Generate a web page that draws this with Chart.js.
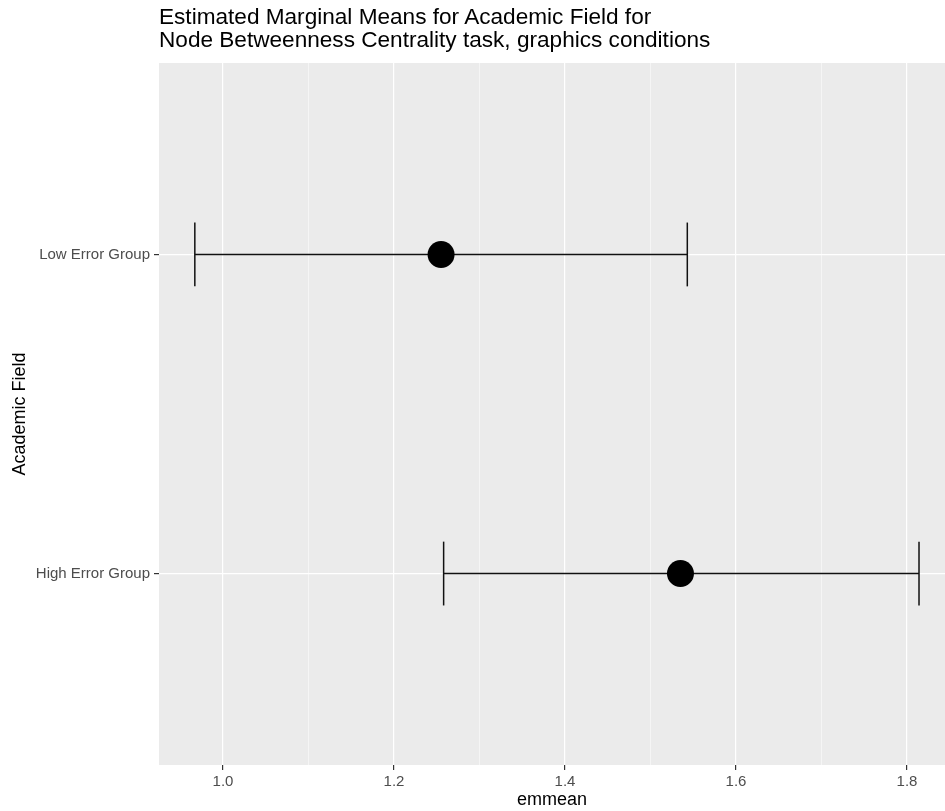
<!DOCTYPE html>
<html>
<head>
<meta charset="utf-8">
<script src="https://cdn.jsdelivr.net/npm/chart.js@4/dist/chart.umd.min.js"></script>
<style>
  html, body { margin: 0; padding: 0; background: #ffffff; }
  #wrap { position: relative; width: 945px; height: 811px; }
  #title { position: absolute; left: 159px; top: 5px; font-family: 'Liberation Sans', Arial, sans-serif;
           font-size: 22.6px; line-height: 23px; color: #000; white-space: nowrap; }
  canvas { position: absolute; left: 0; top: 0; }
</style>
</head>
<body>
<div id="wrap">
  <canvas id="c" width="945" height="811"></canvas>
  <div id="title">Estimated Marginal Means for Academic Field for<br>Node Betweenness Centrality task, graphics conditions</div>
</div>
<script>
// ---- data ----
const categories = ['High Error Group', 'Low Error Group'];   // y positions 1, 2
const emmean  = [1.535, 1.255];
const lowerCL = [1.258, 0.967];
const upperCL = [1.814, 1.543];
const xTickValues = [1.0, 1.1, 1.2, 1.3, 1.4, 1.5, 1.6, 1.7, 1.8];
const xTickLabels = ['1.0', '', '1.2', '', '1.4', '', '1.6', '', '1.8'];
const xTitle = 'emmean';
const yTitle = 'Academic Field';

// ---- build datasets ----
const WH = 0.1; // errorbar whisker half height (category units)
const datasets = [];
datasets.push({
  type: 'scatter',
  data: categories.map((c, i) => ({ x: emmean[i], y: i + 1 })),
  backgroundColor: '#000', borderColor: '#000', borderWidth: 0,
  pointRadius: 13.5, pointHoverRadius: 13.5, order: 0
});
categories.forEach((c, i) => {
  const y = i + 1;
  const segs = [
    [{ x: lowerCL[i], y: y }, { x: upperCL[i], y: y }],
    [{ x: lowerCL[i], y: y - WH }, { x: lowerCL[i], y: y + WH }],
    [{ x: upperCL[i], y: y - WH }, { x: upperCL[i], y: y + WH }]
  ];
  segs.forEach(s => datasets.push({
    type: 'line', data: s, borderColor: '#111', borderWidth: 1.5,
    pointRadius: 0, fill: false, tension: 0, order: 1
  }));
});

const isMajor = v => Math.round(v * 10) % 2 === 0;

const panelBg = {
  id: 'panelBg',
  beforeDraw(chart) {
    const { ctx, chartArea: a } = chart;
    ctx.save();
    ctx.fillStyle = '#EBEBEB';
    ctx.fillRect(a.left, a.top, a.right - a.left, a.bottom - a.top);
    ctx.restore();
  }
};

new Chart(document.getElementById('c'), {
  type: 'scatter',
  data: { datasets },
  plugins: [panelBg],
  options: {
    responsive: false,
    animation: false,
    devicePixelRatio: 1,
    layout: { autoPadding: false, padding: { top: 63, left: 0, right: 0, bottom: 0 } },
    plugins: { legend: { display: false }, tooltip: { enabled: false }, title: { display: false } },
    scales: {
      x: {
        type: 'linear', min: 0.9251, max: 1.8444,
        afterBuildTicks: s => { s.ticks = xTickValues.map(v => ({ value: v })); },
        afterFit: s => { s.height = 46; s.paddingLeft = 0; s.paddingRight = 0; },
        border: { display: false },
        grid: {
          drawOnChartArea: true, drawTicks: true, tickLength: 5,
          color: ctx => isMajor(ctx.tick.value) ? '#FFFFFF' : 'rgba(255,255,255,0.85)',
          lineWidth: ctx => isMajor(ctx.tick.value) ? 1.2 : 0.6,
          tickColor: ctx => isMajor(ctx.tick.value) ? '#333333' : 'rgba(0,0,0,0)',
          tickWidth: 1.2
        },
        ticks: {
          autoSkip: false, maxRotation: 0, padding: 3,
          color: '#4D4D4D',
          font: { family: 'Liberation Sans', size: 15 },
          callback: (v, i) => xTickLabels[xTickValues.findIndex(t => Math.abs(t - v) < 1e-9)] ?? ''
        },
        title: {
          display: true, text: xTitle, color: '#000',
          font: { family: 'Liberation Sans', size: 18 },
          padding: { top: 0, bottom: 0 }
        }
      },
      y: {
        type: 'linear', min: 0.4, max: 2.6,
        afterBuildTicks: s => { s.ticks = categories.map((c, i) => ({ value: i + 1 })); },
        afterFit: s => { s.width = 159; s.paddingTop = 0; s.paddingBottom = 0; },
        border: { display: false },
        grid: {
          color: '#FFFFFF', lineWidth: 1.2, drawTicks: true, tickLength: 5,
          tickColor: '#333333', tickWidth: 1.2
        },
        ticks: {
          autoSkip: false, padding: 4, color: '#4D4D4D',
          font: { family: 'Liberation Sans', size: 15 },
          callback: v => categories[Math.round(v) - 1] ?? ''
        },
        title: {
          display: true, text: yTitle, color: '#000',
          font: { family: 'Liberation Sans', size: 18 },
          padding: { top: 9, bottom: 0 }
        }
      }
    }
  }
});
</script>
</body>
</html>
